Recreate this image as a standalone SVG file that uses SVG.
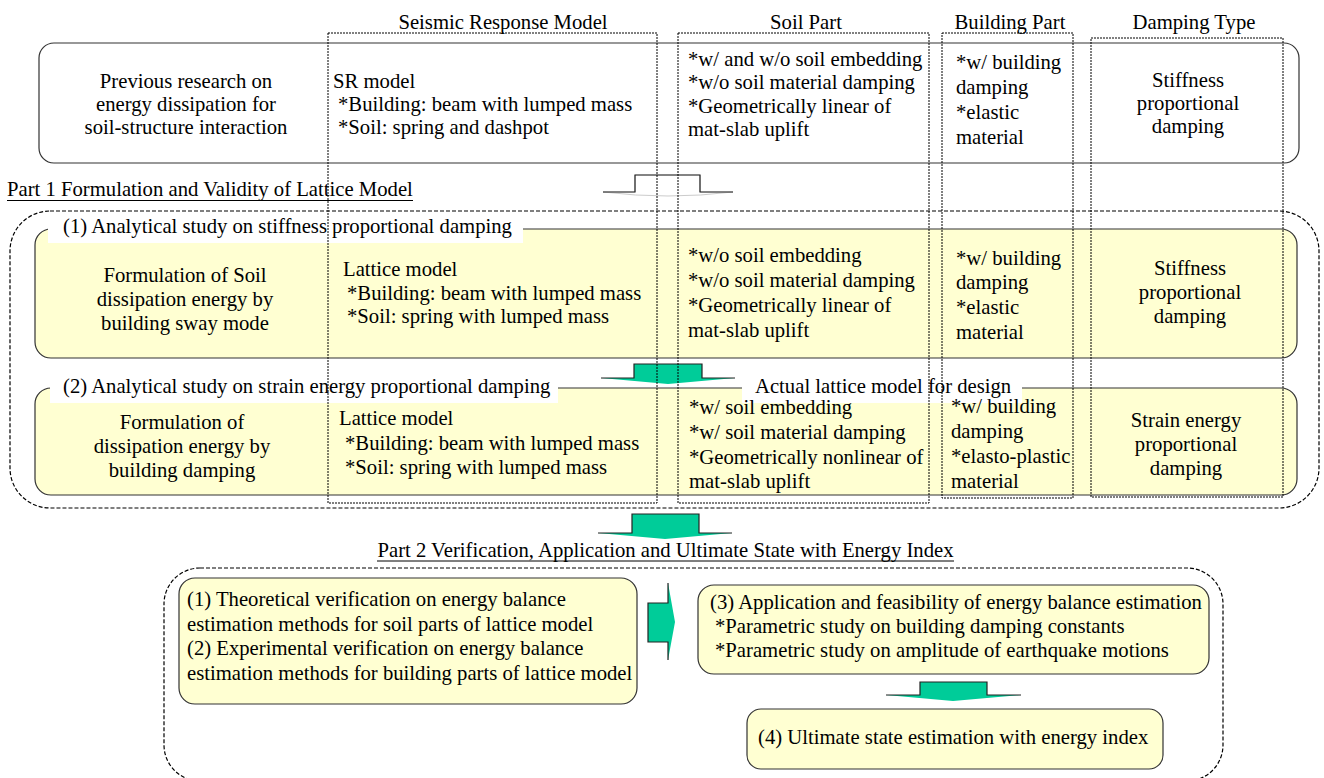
<svg xmlns="http://www.w3.org/2000/svg" width="1324" height="778" viewBox="0 0 1324 778" font-family="'Liberation Serif', 'Times New Roman', serif">
<style>
text{font-family:'Liberation Serif','Times New Roman',serif;font-size:20.7px;fill:#000}
.c{text-anchor:middle}
.col{fill:none;stroke:#000;stroke-width:1;stroke-dasharray:2 1}
.grp{fill:none;stroke:#000;stroke-width:1.2;stroke-dasharray:4 2}
.box{fill:#FFFFD2;stroke:#333;stroke-width:1.2}
.top{fill:#fff;stroke:#333;stroke-width:1.2}
.lbl{fill:#fff}
.arr{fill:#00CC99}
.edge{fill:none;stroke:#222;stroke-width:1.2}
.ul{stroke:#000;stroke-width:1}
</style>
<rect width="1324" height="778" fill="#fff"/>

<g id="previous-research">
<rect class="top" x="39" y="43" width="1260" height="120" rx="15"/>
<text class="c" x="186" y="88">Previous research on</text>
<text class="c" x="186" y="111">energy dissipation for</text>
<text class="c" x="186" y="134">soil-structure interaction</text>
<text x="333" y="88">SR model</text>
<text x="338" y="111">*Building: beam with lumped mass</text>
<text x="338" y="134">*Soil: spring and dashpot</text>
<text x="688" y="66">*w/ and w/o soil embedding</text>
<text x="688" y="89">*w/o soil material damping</text>
<text x="688" y="113">*Geometrically linear of</text>
<text x="688" y="136">mat-slab uplift</text>
<text x="956" y="69">*w/ building</text>
<text x="956" y="94">damping</text>
<text x="956" y="119">*elastic</text>
<text x="956" y="144">material</text>
<text class="c" x="1188" y="87">Stiffness</text>
<text class="c" x="1188" y="110">proportional</text>
<text class="c" x="1188" y="133">damping</text>
</g>

<g id="part1">
<text x="7" y="196">Part 1 Formulation and Validity of Lattice Model</text>
<line class="ul" x1="7" y1="200.5" x2="413" y2="200.5"/>
<rect class="grp" x="10" y="211" width="1309" height="297" rx="40"/>
</g>

<g id="study1">
<rect class="box" x="35" y="229" width="1262" height="129" rx="16"/>
<rect class="lbl" x="48" y="213" width="475" height="30"/>
<text x="63" y="233">(1) Analytical study on stiffness proportional damping</text>
<text class="c" x="185" y="282">Formulation of Soil</text>
<text class="c" x="185" y="306">dissipation energy by</text>
<text class="c" x="185" y="330">building sway mode</text>
<text x="343" y="276">Lattice model</text>
<text x="347" y="300">*Building: beam with lumped mass</text>
<text x="347" y="323">*Soil: spring with lumped mass</text>
<text x="688" y="262">*w/o soil embedding</text>
<text x="688" y="287">*w/o soil material damping</text>
<text x="688" y="312">*Geometrically linear of</text>
<text x="688" y="337">mat-slab uplift</text>
<text x="956" y="265">*w/ building</text>
<text x="956" y="289">damping</text>
<text x="956" y="314">*elastic</text>
<text x="956" y="339">material</text>
<text class="c" x="1190" y="275">Stiffness</text>
<text class="c" x="1190" y="299">proportional</text>
<text class="c" x="1190" y="323">damping</text>
</g>

<g id="study2">
<rect class="box" x="35" y="388" width="1262" height="107" rx="16"/>
<rect class="lbl" x="50" y="372" width="508" height="31"/>
<text x="63" y="393">(2) Analytical study on strain energy proportional damping</text>
<rect class="lbl" x="742" y="374" width="280" height="29"/>
<text x="755" y="393">Actual lattice model for design</text>
<text class="c" x="182" y="429">Formulation of</text>
<text class="c" x="182" y="453">dissipation energy by</text>
<text class="c" x="182" y="477">building damping</text>
<text x="339" y="425">Lattice model</text>
<text x="345" y="450">*Building: beam with lumped mass</text>
<text x="345" y="474">*Soil: spring with lumped mass</text>
<text x="689" y="414">*w/ soil embedding</text>
<text x="689" y="439">*w/ soil material damping</text>
<text x="689" y="464">*Geometrically nonlinear of</text>
<text x="689" y="488">mat-slab uplift</text>
<text x="951" y="413">*w/ building</text>
<text x="951" y="438">damping</text>
<text x="951" y="463">*elasto-plastic</text>
<text x="951" y="488">material</text>
<text class="c" x="1186" y="427">Strain energy</text>
<text class="c" x="1186" y="451">proportional</text>
<text class="c" x="1186" y="475">damping</text>
</g>

<g id="part2">
<text class="c" x="665.5" y="557">Part 2 Verification, Application and Ultimate State with Energy Index</text>
<line class="ul" x1="377" y1="561" x2="954" y2="561"/>
<rect class="grp" x="164" y="568" width="1059" height="213" rx="36"/>
</g>

<g id="verification">
<rect class="box" x="179" y="578" width="458" height="126" rx="16"/>
<text x="187" y="606">(1) Theoretical verification on energy balance</text>
<text x="187" y="631">estimation methods for soil parts of lattice model</text>
<text x="187" y="655">(2) Experimental verification on energy balance</text>
<text x="187" y="680">estimation methods for building parts of lattice model</text>
</g>

<g id="application">
<rect class="box" x="698" y="585" width="511" height="89" rx="16"/>
<text x="710" y="609">(3) Application and feasibility of energy balance estimation</text>
<text x="715" y="633">*Parametric study on building damping constants</text>
<text x="715" y="657">*Parametric study on amplitude of earthquake motions</text>
</g>

<g id="ultimate">
<rect class="box" x="747" y="709" width="416" height="60" rx="14"/>
<text x="758" y="744">(4) Ultimate state estimation with energy index</text>
</g>

<g id="connectors">
<path d="M603,192 H635 V175 H700 V192 H733 Q668,200 603,192 Z" fill="#fff" stroke="#ccc" stroke-width="1"/>
<polyline class="edge" points="603,192 635,192 635,175 700,175 700,192 733,192"/>
<path class="arr" d="M601,378 H634 V364 H702 V378 H735 L668,384 Z"/>
<polyline class="edge" points="601,378 634,378 634,364 702,364 702,378 735,378"/>
<path class="arr" d="M598,533 H632 V514 H699 V533 H732 L665,539 Z"/>
<polyline class="edge" points="598,533 632,533 632,514 699,514 699,533 732,533"/>
<path class="arr" d="M648,603 H668 V583 L675,622 L668,660 V642 H648 Z"/>
<polyline class="edge" points="668,583 668,603 648,603 648,642 668,642 668,660"/>
<path class="arr" d="M886,695 H920 V682 H987 V695 H1021 L953,701 Z"/>
<polyline class="edge" points="886,695 920,695 920,682 987,682 987,695 1021,695"/>
</g>

<g id="columns">
<text class="c" x="503" y="29">Seismic Response Model</text>
<rect class="col" x="328" y="33" width="329" height="470"/>
<text class="c" x="806" y="29">Soil Part</text>
<rect class="col" x="678" y="33" width="251" height="470"/>
<text class="c" x="1010" y="29">Building Part</text>
<rect class="col" x="942" y="33" width="131" height="465"/>
<text class="c" x="1194" y="29">Damping Type</text>
<rect class="col" x="1091" y="38" width="192" height="459"/>
</g>
</svg>
